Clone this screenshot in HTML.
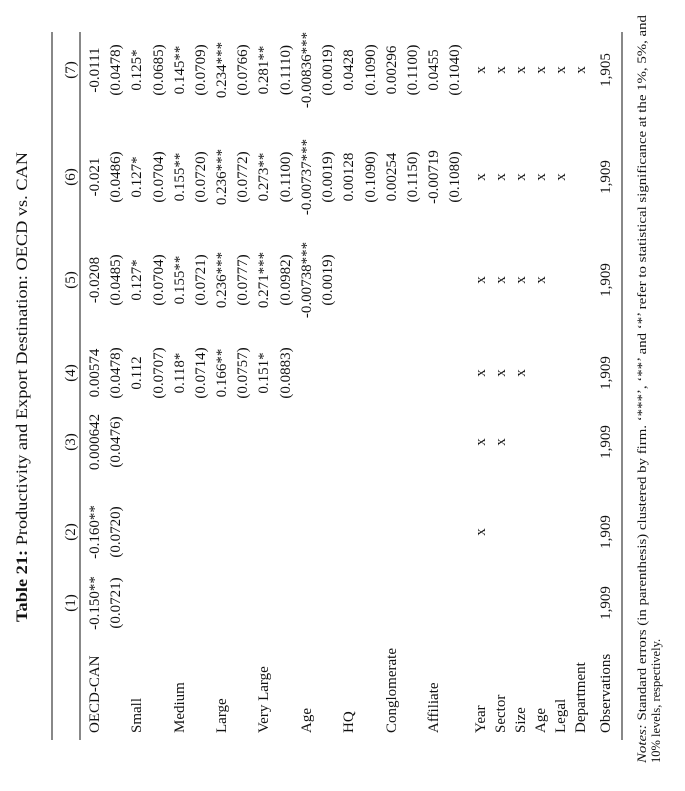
<!DOCTYPE html>
<html><head><meta charset="utf-8"><style>
html,body{margin:0;padding:0;background:#fff;}
svg{display:block;}
text{font-family:"Liberation Serif","DejaVu Serif",serif;fill:#111;}
</style></head><body>
<svg width="685" height="791" viewBox="0 0 685 791" xmlns="http://www.w3.org/2000/svg">
<g transform="translate(0,791) rotate(-90)">
<text x="169" y="27" font-size="15.5" textLength="470" lengthAdjust="spacingAndGlyphs"><tspan font-weight="bold">Table 21:</tspan> Productivity and Export Destination: OECD vs. CAN</text>
<line x1="51" y1="52" x2="759" y2="52" stroke="#111" stroke-width="1"/>
<line x1="51" y1="80" x2="759" y2="80" stroke="#111" stroke-width="1"/>
<line x1="51" y1="622" x2="759" y2="622" stroke="#111" stroke-width="1"/>
<g font-size="15" text-anchor="middle">
<text x="188" y="75">(1)</text><text x="259" y="75">(2)</text><text x="349" y="75">(3)</text><text x="418" y="75">(4)</text><text x="511" y="75">(5)</text><text x="614" y="75">(6)</text><text x="721" y="75">(7)</text>
</g>
<g font-size="15">
<text x="58" y="99">OECD-CAN</text>
<text x="58" y="141">Small</text>
<text x="58" y="184">Medium</text>
<text x="58" y="226">Large</text>
<text x="58" y="268">Very Large</text>
<text x="58" y="311">Age</text>
<text x="58" y="353">HQ</text>
<text x="58" y="396">Conglomerate</text>
<text x="58" y="438">Affiliate</text>
<text x="58" y="485">Year</text>
<text x="58" y="505">Sector</text>
<text x="58" y="525">Size</text>
<text x="58" y="545">Age</text>
<text x="58" y="565">Legal</text>
<text x="58" y="585">Department</text>
<text x="58" y="610">Observations</text>
</g>
<g font-size="15" text-anchor="middle">
<text x="188" y="99">-0.150**</text><text x="259" y="99">-0.160**</text><text x="349" y="99">0.000642</text><text x="418" y="99">0.00574</text><text x="511" y="99">-0.0208</text><text x="614" y="99">-0.021</text><text x="721" y="99">-0.0111</text>
<text x="188" y="120">(0.0721)</text><text x="259" y="120">(0.0720)</text><text x="349" y="120">(0.0476)</text><text x="418" y="120">(0.0478)</text><text x="511" y="120">(0.0485)</text><text x="614" y="120">(0.0486)</text><text x="721" y="120">(0.0478)</text>
<text x="418" y="141">0.112</text><text x="511" y="141">0.127*</text><text x="614" y="141">0.127*</text><text x="721" y="141">0.125*</text>
<text x="418" y="163">(0.0707)</text><text x="511" y="163">(0.0704)</text><text x="614" y="163">(0.0704)</text><text x="721" y="163">(0.0685)</text>
<text x="418" y="184">0.118*</text><text x="511" y="184">0.155**</text><text x="614" y="184">0.155**</text><text x="721" y="184">0.145**</text>
<text x="418" y="205">(0.0714)</text><text x="511" y="205">(0.0721)</text><text x="614" y="205">(0.0720)</text><text x="721" y="205">(0.0709)</text>
<text x="418" y="226">0.166**</text><text x="511" y="226">0.236***</text><text x="614" y="226">0.236***</text><text x="721" y="226">0.234***</text>
<text x="418" y="247">(0.0757)</text><text x="511" y="247">(0.0777)</text><text x="614" y="247">(0.0772)</text><text x="721" y="247">(0.0766)</text>
<text x="418" y="268">0.151*</text><text x="511" y="268">0.271***</text><text x="614" y="268">0.273**</text><text x="721" y="268">0.281**</text>
<text x="418" y="290">(0.0883)</text><text x="511" y="290">(0.0982)</text><text x="614" y="290">(0.1100)</text><text x="721" y="290">(0.1110)</text>
<text x="511" y="311">-0.00738***</text><text x="614" y="311">-0.00737***</text><text x="721" y="311">-0.00836***</text>
<text x="511" y="332">(0.0019)</text><text x="614" y="332">(0.0019)</text><text x="721" y="332">(0.0019)</text>
<text x="614" y="353">0.00128</text><text x="721" y="353">0.0428</text>
<text x="614" y="375">(0.1090)</text><text x="721" y="375">(0.1090)</text>
<text x="614" y="396">0.00254</text><text x="721" y="396">0.00296</text>
<text x="614" y="417">(0.1150)</text><text x="721" y="417">(0.1100)</text>
<text x="614" y="438">-0.00719</text><text x="721" y="438">0.0455</text>
<text x="614" y="459">(0.1080)</text><text x="721" y="459">(0.1040)</text>
<text x="259" y="485">x</text><text x="349" y="485">x</text><text x="418" y="485">x</text><text x="511" y="485">x</text><text x="614" y="485">x</text><text x="721" y="485">x</text>
<text x="349" y="505">x</text><text x="418" y="505">x</text><text x="511" y="505">x</text><text x="614" y="505">x</text><text x="721" y="505">x</text>
<text x="418" y="525">x</text><text x="511" y="525">x</text><text x="614" y="525">x</text><text x="721" y="525">x</text>
<text x="511" y="545">x</text><text x="614" y="545">x</text><text x="721" y="545">x</text>
<text x="614" y="565">x</text><text x="721" y="565">x</text>
<text x="721" y="585">x</text>
<text x="188" y="610">1,909</text><text x="259" y="610">1,909</text><text x="349" y="610">1,909</text><text x="418" y="610">1,909</text><text x="511" y="610">1,909</text><text x="614" y="610">1,909</text><text x="721" y="610">1,905</text>
</g>
<g font-size="12.5">
<text x="28" y="646" textLength="748" lengthAdjust="spacingAndGlyphs"><tspan font-style="italic">Notes:</tspan> Standard errors (in parenthesis) clustered by firm. ‘***’, ‘**’ and ‘*’ refer to statistical significance at the 1%, 5%, and</text>
<text x="28" y="660">10% levels, respectively.</text>
</g>
</g>
</svg>
</body></html>
